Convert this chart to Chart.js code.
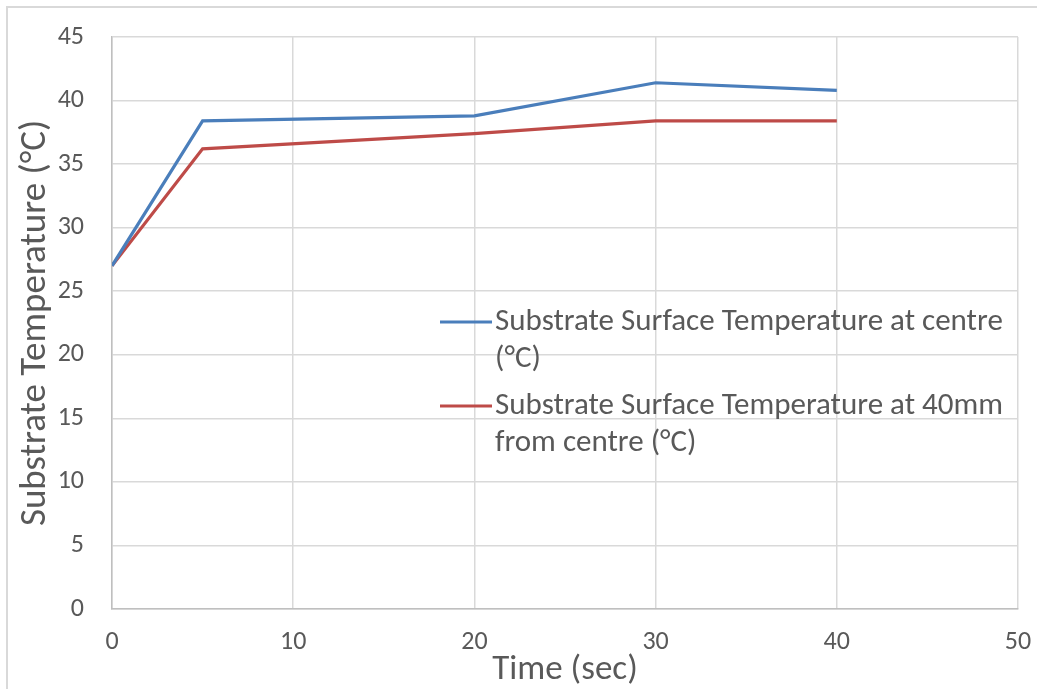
<!DOCTYPE html>
<html>
<head>
<meta charset="utf-8">
<script src="https://cdn.jsdelivr.net/npm/chart.js@4"></script>
<style>
  html, body { margin: 0; padding: 0; background: #fff; }
  #wrap { width: 1037px; height: 689px; }
</style>
</head>
<body>
<div id="wrap"><canvas id="tempChart"></canvas></div>
<script>
const timeSec = [0, 5, 20, 30, 40];
const centreTemp = [27, 38.4, 38.8, 41.4, 40.8];
const edgeTemp = [27, 36.2, 37.4, 38.4, 38.4];
const seriesNames = [
  'Substrate Surface Temperature at centre (°C)',
  'Substrate Surface Temperature at 40mm from centre (°C)'
];

const FONT = 'Carlito, Lato, "Open Sans", sans-serif';
const TEXT = '#595959';

// outer frame of the chart
const framePlugin = {
  id: 'frame',
  beforeDraw(chart) {
    const c = chart.ctx;
    c.save();
    c.fillStyle = '#fff';
    c.fillRect(0, 0, chart.width, chart.height);
    c.strokeStyle = '#d9d9d9';
    c.lineWidth = 2;
    c.strokeRect(7, 7, chart.width + 50, chart.height + 50);
    c.restore();
  }
};

// legend sits inside the plot, labels wrap onto two lines
const boxLegend = {
  id: 'boxLegend',
  afterDraw(chart) {
    const c = chart.ctx;
    const left = 440, textX = 495, maxW = 520;
    const lineH = 37;
    let y = 322;
    c.save();
    c.font = '31px ' + FONT;
    c.textBaseline = 'middle';
    chart.data.datasets.forEach(ds => {
      c.strokeStyle = ds.borderColor;
      c.lineWidth = 3;
      c.beginPath();
      c.moveTo(left, y);
      c.lineTo(textX - 3, y);
      c.stroke();
      const words = ds.label.split(' ');
      const lines = [];
      let cur = '';
      words.forEach(w => {
        const test = cur ? cur + ' ' + w : w;
        if (c.measureText(test).width > maxW && cur) {
          lines.push(cur);
          cur = w;
        } else {
          cur = test;
        }
      });
      lines.push(cur);
      c.fillStyle = TEXT;
      lines.forEach((ln, i) => c.fillText(ln, textX, y + i * lineH));
      y += lines.length * lineH + 10;
    });
    c.restore();
  }
};

const ctx = document.getElementById('tempChart');

new Chart(ctx, {
  type: 'line',
  data: {
    datasets: [
      {
        label: seriesNames[0],
        data: timeSec.map((t, i) => ({ x: t, y: centreTemp[i] })),
        borderColor: '#4a7ebb',
        borderWidth: 3.2,
        pointRadius: 0,
        tension: 0
      },
      {
        label: seriesNames[1],
        data: timeSec.map((t, i) => ({ x: t, y: edgeTemp[i] })),
        borderColor: '#be4b48',
        borderWidth: 3.2,
        pointRadius: 0,
        tension: 0
      }
    ]
  },
  options: {
    responsive: true,
    maintainAspectRatio: false,
    animation: false,
    layout: { padding: { top: 37, right: 19, left: 0, bottom: 0 } },
    plugins: {
      legend: { display: false },
      tooltip: { enabled: false }
    },
    scales: {
      x: {
        type: 'linear',
        min: 0,
        max: 50,
        afterFit(scale) {
          scale.height = 80;
          scale.paddingLeft = 0;
          scale.paddingRight = 0;
        },
        ticks: {
          stepSize: 10,
          color: TEXT,
          font: { family: FONT, size: 26 },
          padding: 18,
          maxRotation: 0
        },
        grid: { color: '#d9d9d9', lineWidth: 1.5, drawTicks: false },
        border: { color: '#bfbfbf', width: 1.5 },
        title: {
          display: true,
          text: 'Time (sec)',
          color: TEXT,
          font: { family: FONT, size: 35 },
          padding: { top: 0, bottom: -2 }
        }
      },
      y: {
        min: 0,
        max: 45,
        afterFit(scale) {
          scale.width = 112;
          scale.paddingTop = 0;
          scale.paddingBottom = 0;
        },
        ticks: {
          stepSize: 5,
          color: TEXT,
          font: { family: FONT, size: 26 },
          padding: 28
        },
        grid: { color: '#d9d9d9', lineWidth: 1.5, drawTicks: false },
        border: { color: '#bfbfbf', width: 1.5 },
        title: {
          display: true,
          text: 'Substrate Temperature (°C)',
          color: TEXT,
          font: { family: FONT, size: 37 },
          padding: { top: 14, bottom: 0 }
        }
      }
    }
  },
  plugins: [framePlugin, boxLegend]
});
</script>
</body>
</html>
